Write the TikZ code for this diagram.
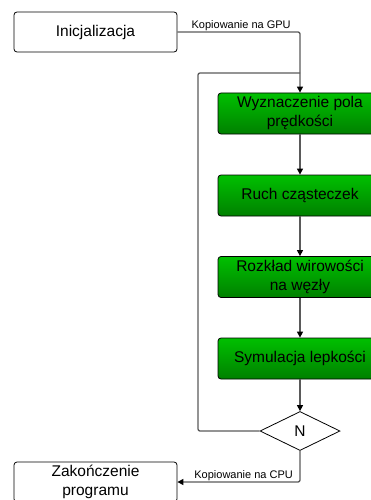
\documentclass[tikz,border=0pt]{standalone}
\usepackage{fontspec}
\setmainfont{Liberation Sans}
\usetikzlibrary{arrows.meta,shapes.geometric}
\definecolor{gtop}{RGB}{0,192,0}
\definecolor{gbot}{RGB}{0,128,0}
\definecolor{lgray}{RGB}{90,90,90}
\tikzset{
  wbox/.style={draw=black, line width=0.8pt, rounded corners=3pt, fill=white, minimum width=163pt, minimum height=40pt, align=center, inner sep=0pt, font=\fontsize{15.5}{19}\selectfont},
  gbox/.style={draw=black, line width=0.8pt, rounded corners=3pt, top color=gtop, bottom color=gbot, minimum width=164pt, minimum height=41pt, align=center, inner sep=0pt, font=\fontsize{15.5}{19}\selectfont},
  dbox/.style={draw=black, line width=0.8pt, fill=white, diamond, aspect=2.05, minimum width=80pt, minimum height=39pt, inner sep=0pt, font=\fontsize{15.5}{19}\selectfont},
  conn/.style={draw=lgray, line width=1.3pt, rounded corners=2pt, -{Triangle[length=6pt,width=6pt,color=black]}},
  plain/.style={draw=lgray, line width=1.3pt, rounded corners=2pt},
  lbl/.style={font=\fontsize{11}{13}\selectfont, inner sep=1pt}
}
\begin{document}
\begin{tikzpicture}[x=1pt,y=-1pt]
\useasboundingbox (0,0) rectangle (371,500);
\clip (0,0) rectangle (371,500);
\node[wbox] (init) at (95.5,32) {Inicjalizacja};
\node[gbox] (g1) at (300,113.5) {Wyznaczenie pola\\prędkości};
\node[gbox] (g2) at (300,195.5) {Ruch cząsteczek};
\node[gbox] (g3) at (300,277) {Rozkład wirowości\\na węzły};
\node[gbox] (g4) at (300,358.5) {Symulacja lepkości};
\node[dbox] (dia) at (300,431) {N};
\node[wbox] (fin) at (95.5,482) {Zakończenie\\programu};
\coordinate (lp) at (198,73);
\coordinate (lj) at (300,73);
\draw[conn] (init.east) -| node[lbl, above, pos=0.26] {Kopiowanie na GPU} (g1.north);
\draw[plain] (dia.west) -| (lp) -- (lj);
\draw[conn] (g1.south) -- (g2.north);
\draw[conn] (g2.south) -- (g3.north);
\draw[conn] (g3.south) -- (g4.north);
\draw[conn] (g4.south) -- (dia.north);
\draw[conn] (dia.south) |- node[lbl, above, pos=0.73] {Kopiowanie na CPU} (fin.east);
\end{tikzpicture}
\end{document}
